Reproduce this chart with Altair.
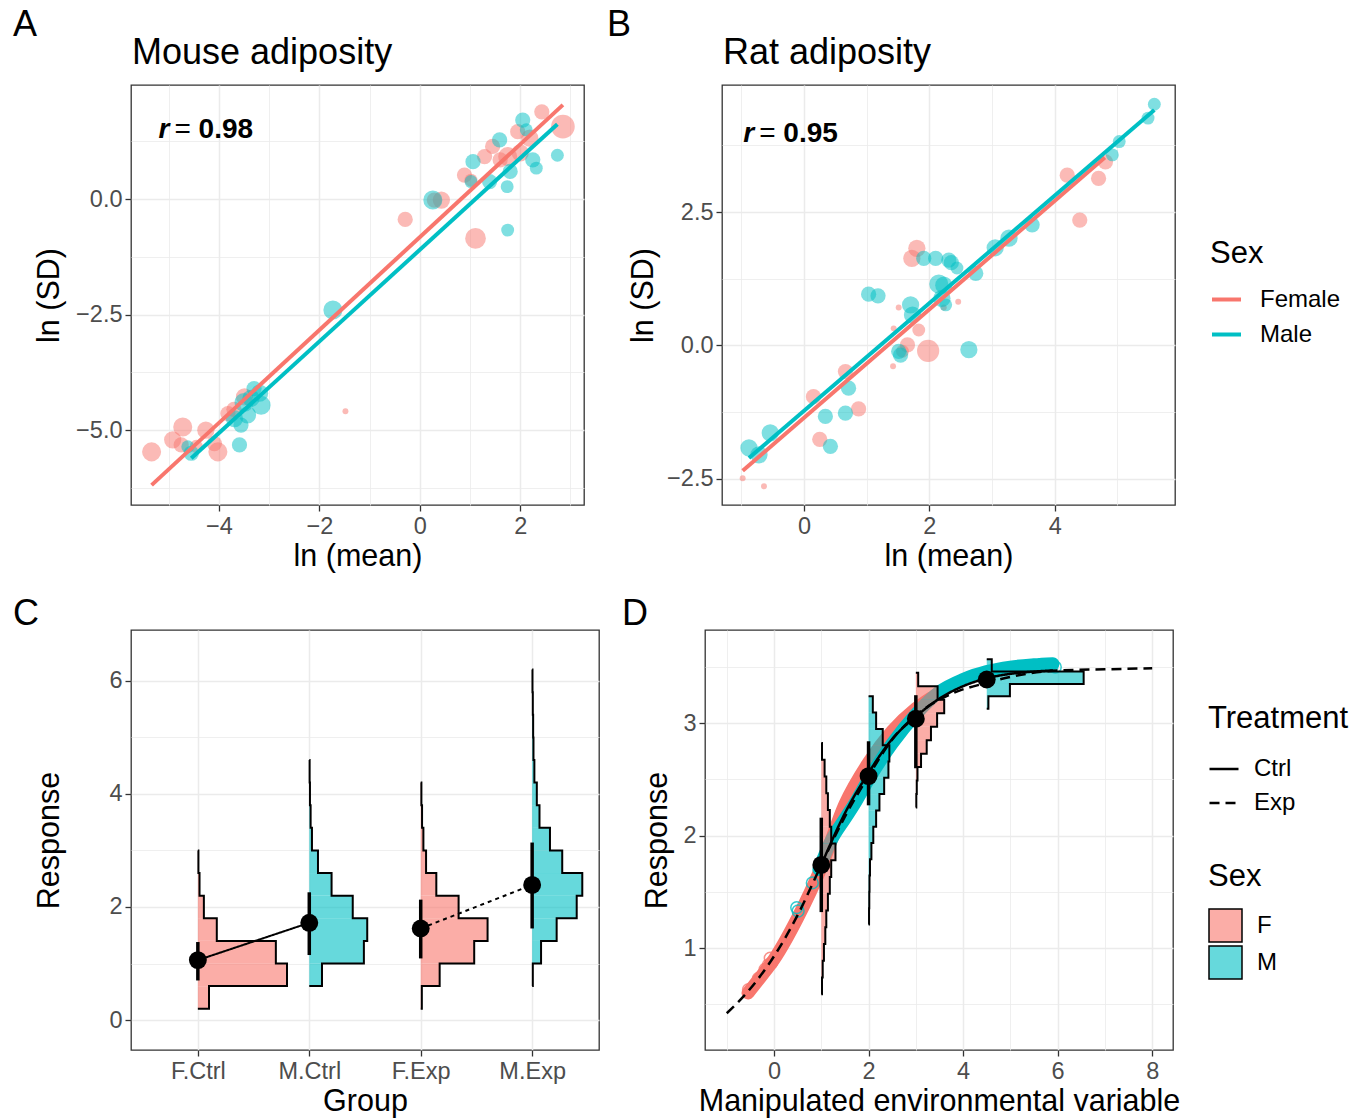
import json
import altair as alt
import pandas as pd

FONT = "Liberation Sans"
RED = "#F8766D"
CYAN = "#00BFC4"
RED_A = "rgba(248,118,109,0.6)"
CYAN_A = "rgba(0,191,196,0.6)"
GRID = "#EBEBEB"

# ---------------- Panel A : Mouse adiposity ----------------
a_f_x = [2.43, 2.85, 1.95, 2.19, 1.45, 1.75, 1.29, 0.89, 1.02, 0.43, 0.29, -0.29, 1.11, -1.48,
         -5.34, -4.72, -4.92, -4.75, -4.26, -4.02, -4.09, -3.82, -3.49, -3.70, -4.45, 2.00, 1.60]
a_f_y = [1.89, 1.57, 1.46, 1.32, 1.14, 0.92, 0.92, 0.52, 0.41, -0.02, -0.02, -0.44, -0.85, -4.59,
         -5.47, -4.93, -5.21, -5.32, -5.00, -5.47, -5.29, -4.64, -4.28, -4.55, -5.35, 1.00, 0.85]
a_f_w = [4, 9, 4, 5, 4, 6, 4, 4, 3, 5, 4, 4, 7, 1, 6, 6, 5, 4, 5, 6, 4, 4, 5, 4, 3, 5, 4]
a_m_x = [2.05, 2.12, 1.59, 1.06, 1.02, 1.39, 2.25, 2.32, 2.74, 1.74, 0.26, 1.75, -1.73,
         -3.19, -3.16, -3.43, -3.56, -3.69, -3.59, -4.55, -4.62, -3.36, -3.50, -3.30, 1.80]
a_m_y = [1.71, 1.50, 1.28, 0.81, 0.38, 0.38, 0.85, 0.67, 0.95, 0.27, -0.02, -0.67, -2.40,
         -4.20, -4.46, -4.67, -4.89, -4.75, -5.32, -5.50, -5.36, -4.31, -4.40, -4.10, 0.60]
a_m_w = [4, 3, 4, 4, 3, 4, 4, 3, 3, 3, 6, 3, 6, 5, 6, 5, 4, 5, 4, 4, 3, 5, 6, 4, 4]
a_fit_sex = ["Female", "Female", "Male", "Male"]
a_fit_x = [-5.34, 2.85, -4.55, 2.74]
a_fit_y = [-6.19, 2.04, -5.61, 1.62]
a_r_x = [-5.20]
a_r_y = [1.32]
a_r_val = ["0.98"]

# ---------------- Panel B : Rat adiposity ----------------
b_f_x = [4.20, 4.70, 4.81, 4.40, 1.80, 1.72, 1.51, 1.43, 1.83, 1.65, 1.98, 1.57, 1.42, 2.46, 2.23,
         0.66, 0.87, 0.15, 0.25, -0.98, -0.64]
b_f_y = [3.19, 3.13, 3.44, 2.35, 1.82, 1.63, 0.71, 0.32, 0.29, 0.01, -0.10, -0.11, -0.39, 0.82, 0.71,
         -0.49, -1.19, -0.96, -1.76, -2.49, -2.64]
b_f_w = [4, 4, 4, 4, 5, 5, 1, 1, 3, 4, 8, 3, 1, 1, 1, 4, 4, 4, 4, 1, 1]
b_m_x = [5.59, 5.49, 5.03, 4.92, 3.64, 3.27, 3.05, 2.74, 1.91, 2.10, 2.31, 2.44, 2.23, 2.20, 2.26,
         1.03, 1.18, 1.70, 1.73, 1.51, 1.54, 2.63, 0.71, 0.34, 0.66, 0.42, -0.54, -0.88, -0.72, 2.35, 2.15]
b_m_y = [4.52, 4.26, 3.82, 3.57, 2.26, 2.01, 1.83, 1.35, 1.63, 1.63, 1.60, 1.45, 1.13, 0.88, 0.76,
         0.96, 0.93, 0.76, 0.57, -0.11, -0.18, -0.08, -0.80, -1.33, -1.27, -1.89, -1.64, -1.92, -2.05, 1.55, 1.15]
b_m_w = [3, 3, 3, 3, 4, 5, 5, 4, 4, 4, 4, 3, 5, 5, 3, 4, 4, 5, 5, 4, 4, 5, 4, 4, 4, 4, 5, 5, 5, 4, 6]
b_fit_sex = ["Female", "Female", "Male", "Male"]
b_fit_x = [-0.98, 4.80, -0.88, 5.59]
b_fit_y = [-2.35, 3.52, -2.11, 4.41]
b_r_x = [-0.97]
b_r_y = [3.81]
b_r_val = ["0.95"]

# ---------------- Panel C : Group histograms ----------------
c_groups = ["F.Ctrl", "M.Ctrl", "F.Exp", "M.Exp"]
c_pos = [1, 2, 3, 4]
c_sex = ["F", "M", "F", "M"]
c_treat = ["Ctrl", "Ctrl", "Exp", "Exp"]
c_mean = [1.06, 1.72, 1.62, 2.39]
c_lo = [0.70, 1.15, 1.09, 1.62]
c_hi = [1.38, 2.26, 2.13, 3.14]
c_bin_start = [0.2, 0.6, 0.2, 0.6]
c_bin_width = [0.4, 0.4, 0.4, 0.4]
c_hist = [
    [0.10, 0.80, 0.70, 0.17, 0.054, 0.015, 0.005],
    [0.114, 0.49, 0.52, 0.39, 0.20, 0.078, 0.024, 0.012, 0.006, 0.003],
    [0.01, 0.17, 0.48, 0.60, 0.34, 0.14, 0.048, 0.024, 0.012, 0.006],
    [0.006, 0.08, 0.22, 0.40, 0.45, 0.27, 0.16, 0.066, 0.042, 0.02, 0.012, 0.009, 0.006, 0.003],
]

# ---------------- Panel D : reaction norms ----------------
d_pos = [1.0, 2.0, 3.0, 4.5]
d_sex = ["F", "M", "F", "M"]
d_mean = [1.74, 2.53, 3.04, 3.39]
d_lo = [1.32, 2.27, 2.60, 3.33]
d_hi = [2.16, 2.84, 3.25, 3.46]
d_bin_start = [0.59, 1.21, 2.25, 3.13]
d_bin_width = [0.149, 0.145, 0.12, 0.11]
d_hist = [
    [0.015, 0.03, 0.056, 0.085, 0.106, 0.14, 0.18, 0.21, 0.30, 0.21, 0.18, 0.14, 0.106, 0.07, 0.015],
    [0.01, 0.015, 0.02, 0.03, 0.06, 0.10, 0.16, 0.23, 0.33, 0.42, 0.44, 0.30, 0.16, 0.09],
    [0.01, 0.02, 0.035, 0.11, 0.23, 0.32, 0.45, 0.60, 0.46, 0.05],
    [0.035, 0.49, 2.05, 0.106],
]
d_exp_x = [-1.0, -0.54, 0.02, 0.52, 1.0, 1.5, 2.0, 2.49, 3.0, 3.8, 4.5, 5.2, 6.0, 7.0, 8.0]
d_exp_y = [0.42, 0.62, 0.94, 1.31, 1.74, 2.17, 2.53, 2.85, 3.07, 3.27, 3.36, 3.43, 3.47, 3.48, 3.49]
d_ctrl_x = [1.0, 1.5, 2.0, 2.5, 3.0, 3.5, 4.0, 4.5, 5.0, 5.5, 5.9]
d_ctrl_y = [1.74, 2.20, 2.56, 2.86, 3.06, 3.22, 3.33, 3.40, 3.44, 3.46, 3.47]
d_band_f_x = [-0.55, -0.25, 0.0, 0.5, 1.0, 1.5, 2.0, 2.5, 3.0, 3.3]
d_band_f_y = [0.60, 0.76, 0.90, 1.27, 1.72, 2.28, 2.65, 2.93, 3.13, 3.22]
d_band_m_x = [0.95, 1.2, 1.5, 1.7, 2.0, 2.5, 3.0, 3.5, 4.0, 4.5, 5.0, 5.5, 5.9]
d_band_m_y = [1.70, 1.95, 2.15, 2.28, 2.50, 2.82, 3.08, 3.28, 3.39, 3.46, 3.50, 3.52, 3.53]
d_open_sex = ["F", "F", "F", "F", "F", "F", "M", "M", "M", "M", "M", "M", "M"]
d_open_x = [-0.54, -0.33, -0.19, -0.05, -0.08, -0.12, 0.51, 0.48, 0.81, 5.63, 5.75, 5.88, 5.95]
d_open_y = [0.63, 0.73, 0.81, 0.87, 0.91, 0.85, 1.33, 1.36, 1.58, 3.52, 3.52, 3.51, 3.50]
SEX_NAME = {"F": "Female", "M": "Male"}


# ---------------- helpers ----------------
def axis(majors, minors=(), fmt=None, label_expr=None, title_x=None, **kw):
    vals = sorted(list(majors) + list(minors))
    test = "indexof(%s, datum.value) >= 0" % json.dumps(list(majors))
    d = dict(
        values=vals,
        labelExpr=label_expr or ("%s ? datum.label : ''" % test),
        tickOpacity={"condition": {"test": test, "value": 1}, "value": 0},
        gridWidth={"condition": {"test": test, "value": 1.5}, "value": 0.8},
        labelOverlap=False,
        labelFlush=False,
    )
    if fmt:
        d["format"] = fmt
    if title_x is not None:
        d["titleX"] = title_x
        d["titleBaseline"] = "alphabetic"
    d.update(kw)
    return alt.Axis(**d)


def sc(lo, hi):
    return alt.Scale(domain=[lo, hi], nice=False, zero=False)


def label_text(txt, dx, dy, size=36):
    return alt.Chart(pd.DataFrame({"t": [txt]})).mark_text(
        fontSize=size, align="left", baseline="alphabetic", color="black", font=FONT
    ).encode(x=alt.value(dx), y=alt.value(dy), text="t:N")


def hist_frames(bases, sexes, starts, bws, counts):
    rects, outline = [], []
    for g, (b, s, st, bw, cs) in enumerate(zip(bases, sexes, starts, bws, counts)):
        for i, c in enumerate(cs):
            rects.append(dict(g=g, Sx=s, x0=b, x1=b + c, y0=st + i * bw, y1=st + (i + 1) * bw))
        pts = [(b, st)]
        for i, c in enumerate(cs):
            pts += [(b + c, st + i * bw), (b + c, st + (i + 1) * bw)]
        pts.append((b, st + len(cs) * bw))
        for k, (x, y) in enumerate(pts):
            outline.append(dict(g=g, o=k, x=x, y=y))
    return pd.DataFrame(rects), pd.DataFrame(outline)


def scatter_panel(fx, fy, fw, mx, my, mw, fsex, fitx, fity, rx, ry, rval,
                  xdom, ydom, xmaj, xmin, ymaj, ymin, title, let, let_dx, title_x, legend, width, height):
    pts = pd.DataFrame({
        "x": fx + mx, "y": fy + my, "w": fw + mw,
        "sex": ["Female"] * len(fx) + ["Male"] * len(mx),
    })
    fit = pd.DataFrame({"x": fitx, "y": fity, "sex": fsex})
    xs, ys = sc(*xdom), sc(*ydom)
    xax = axis(xmaj, xmin, fmt="~g", title="ln (mean)")
    yax = axis(ymaj, ymin, fmt=".1f", title="ln (SD)", title_x=title_x)
    col = alt.Color("sex:N", scale=alt.Scale(domain=["Female", "Male"], range=[RED, CYAN]), legend=legend)
    p = alt.Chart(pts).mark_circle(opacity=0.5).encode(
        x=alt.X("x:Q", scale=xs, axis=xax),
        y=alt.Y("y:Q", scale=ys, axis=yax),
        color=col,
        size=alt.Size("w:Q", scale=alt.Scale(domain=[1, 9], range=[35, 560], zero=False), legend=None),
    )
    l = alt.Chart(fit).mark_line(strokeWidth=4).encode(x="x:Q", y="y:Q", color=col, detail="sex:N")
    rdf = pd.DataFrame({"x": rx, "y": ry, "v": rval})
    r1 = alt.Chart(rdf).mark_text(fontSize=28, fontStyle="italic", fontWeight="bold", align="left",
                                  baseline="alphabetic", font=FONT).encode(x="x:Q", y="y:Q", text=alt.value("r"))
    r2 = alt.Chart(rdf).mark_text(fontSize=28, align="left", baseline="alphabetic", dx=16,
                                  font=FONT).encode(x="x:Q", y="y:Q", text=alt.value("="))
    r3 = alt.Chart(rdf).mark_text(fontSize=28, fontWeight="bold", align="left", baseline="alphabetic", dx=40,
                                  font=FONT).encode(x="x:Q", y="y:Q", text="v:N")
    return alt.layer(p, l, r1, r2, r3, label_text(title, 1, -21), label_text(let, let_dx, -49)).properties(
        width=width, height=height)


sex_legend_b = alt.Legend(title="Sex", orient="none", legendX=488, legendY=154, symbolType="stroke",
                          symbolSize=841, symbolStrokeWidth=4, symbolOpacity=1, rowPadding=6,
                          titlePadding=13, labelOffset=17)

A = scatter_panel(a_f_x, a_f_y, a_f_w, a_m_x, a_m_y, a_m_w, a_fit_sex, a_fit_x, a_fit_y,
                  a_r_x, a_r_y, a_r_val, (-5.75, 3.27), (-6.62, 2.47), [-4, -2, 0, 2], [-5, -3, -1, 1, 3],
                  [-5.0, -2.5, 0.0], [-6.25, -3.75, -1.25, 1.25], "Mouse adiposity", "A", -118, -73, None,
                  453, 420)
B = scatter_panel(b_f_x, b_f_y, b_f_w, b_m_x, b_m_y, b_m_w, b_fit_sex, b_fit_x, b_fit_y,
                  b_r_x, b_r_y, b_r_val, (-1.31, 5.92), (-2.99, 4.88), [0, 2, 4], [-1, 1, 3, 5],
                  [-2.5, 0.0, 2.5], [-1.25, 1.25, 3.75], "Rat adiposity", "B", -115, -70, sex_legend_b,
                  453, 420)

# ---------------- Panel C ----------------
c_rects, c_out = hist_frames(c_pos, c_sex, c_bin_start, c_bin_width, c_hist)
c_stats = pd.DataFrame({"x": c_pos, "m": c_mean, "lo": c_lo, "hi": c_hi, "treat": c_treat, "g": c_groups})
cxs, cys = sc(0.4, 4.6), sc(-0.53, 6.90)
c_lab = "[''," + ",".join("'%s'" % g for g in c_groups) + "][datum.value]"
cxax = axis(c_pos, (), label_expr=c_lab, title="Group")
cyax = axis([0, 2, 4, 6], [1, 3, 5], fmt="~g", title="Response", title_x=-73)
c_fill = alt.Color("Sx:N", scale=alt.Scale(domain=["F", "M"], range=[RED_A, CYAN_A]), legend=None)
c1 = alt.Chart(c_rects).mark_rect().encode(
    x=alt.X("x0:Q", scale=cxs, axis=cxax), x2="x1:Q",
    y=alt.Y("y0:Q", scale=cys, axis=cyax), y2="y1:Q", color=c_fill)
c2 = alt.Chart(c_out).mark_line(color="black", strokeWidth=2).encode(
    x="x:Q", y="y:Q", detail="g:N", order="o:Q")
c3 = alt.Chart(c_stats).mark_line(color="black", strokeWidth=2).encode(
    x="x:Q", y="m:Q", detail="treat:N",
    strokeDash=alt.StrokeDash("treat:N", scale=alt.Scale(domain=["Ctrl", "Exp"], range=[[1, 0], [4, 4]]),
                              legend=None))
c4 = alt.Chart(c_stats).mark_rule(color="black", strokeWidth=3.5).encode(x="x:Q", y="lo:Q", y2="hi:Q")
c5 = alt.Chart(c_stats).mark_circle(color="black", size=320, opacity=1).encode(x="x:Q", y="m:Q")
C = alt.layer(c1, c2, c3, c4, c5, label_text("C", -118, -5)).properties(width=468, height=420)

# ---------------- Panel D ----------------
d_rects, d_out = hist_frames(d_pos, d_sex, d_bin_start, d_bin_width, d_hist)
d_stats = pd.DataFrame({"x": d_pos, "m": d_mean, "lo": d_lo, "hi": d_hi})
d_lines = pd.DataFrame({
    "x": d_ctrl_x + d_exp_x, "y": d_ctrl_y + d_exp_y,
    "treat": ["Ctrl"] * len(d_ctrl_x) + ["Exp"] * len(d_exp_x),
    "o": list(range(len(d_ctrl_x))) + list(range(len(d_exp_x))),
})
d_bands = pd.DataFrame({
    "x": d_band_f_x + d_band_m_x, "y": d_band_f_y + d_band_m_y,
    "sexname": ["Female"] * len(d_band_f_x) + ["Male"] * len(d_band_m_x),
    "o": list(range(len(d_band_f_x))) + list(range(len(d_band_m_x))),
})
d_open = pd.DataFrame({"x": d_open_x, "y": d_open_y, "sexname": [SEX_NAME[s] for s in d_open_sex]})
dxs, dys = sc(-1.46, 8.44), sc(0.093, 3.83)
dxax = axis([0, 2, 4, 6, 8], [-1, 1, 3, 5, 7], fmt="~g", title="Manipulated environmental variable")
dyax = axis([1, 2, 3], [0.5, 1.5, 2.5, 3.5], fmt="~g", title="Response", title_x=-39)
d_stroke = alt.Stroke("sexname:N", scale=alt.Scale(domain=["Female", "Male"], range=[RED, CYAN]), legend=None)
d_fill = alt.Color("Sx:N", scale=alt.Scale(domain=["F", "M"], range=[RED_A, CYAN_A]),
                   legend=alt.Legend(title="Sex", orient="none", legendX=503, legendY=232, symbolType="square",
                                     symbolSize=1089, symbolStrokeColor="black", symbolStrokeWidth=1.5,
                                     symbolOpacity=1, rowPadding=-4, titlePadding=15, labelOffset=14))
d0 = alt.Chart(d_bands).mark_line(strokeWidth=13, strokeCap="round", interpolate="monotone").encode(
    x=alt.X("x:Q", scale=dxs, axis=dxax), y=alt.Y("y:Q", scale=dys, axis=dyax),
    stroke=d_stroke, detail="sexname:N", order="o:Q")
d1 = alt.Chart(d_open).mark_point(filled=False, size=140, strokeWidth=1.5, opacity=0.8).encode(
    x="x:Q", y="y:Q", stroke=d_stroke)
d2 = alt.Chart(d_rects).mark_rect().encode(x="x0:Q", x2="x1:Q", y="y0:Q", y2="y1:Q", color=d_fill)
d3 = alt.Chart(d_out).mark_line(color="black", strokeWidth=2).encode(
    x="x:Q", y="y:Q", detail="g:N", order="o:Q")
d4 = alt.Chart(d_lines).mark_line(color="black", strokeWidth=2.5, interpolate="monotone").encode(
    x="x:Q", y="y:Q", detail="treat:N", order="o:Q",
    strokeDash=alt.StrokeDash("treat:N", scale=alt.Scale(domain=["Ctrl", "Exp"], range=[[1, 0], [10, 6]]),
                              legend=alt.Legend(title="Treatment", orient="none", legendX=503, legendY=74,
                                                symbolType="stroke", symbolSize=841, symbolStrokeWidth=2.5,
                                                symbolStrokeColor="black", rowPadding=6, titlePadding=18,
                                                labelOffset=14)))
d5 = alt.Chart(d_stats).mark_rule(color="black", strokeWidth=3.5).encode(x="x:Q", y="lo:Q", y2="hi:Q")
d6 = alt.Chart(d_stats).mark_circle(color="black", size=320, opacity=1).encode(x="x:Q", y="m:Q")
D = alt.layer(d0, d1, d2, d3, d4, d5, d6, label_text("D", -83, -5)).properties(width=468, height=420)

res = dict(color="independent", fill="independent", stroke="independent", strokeDash="independent",
           size="independent", x="independent", y="independent")
row1 = alt.hconcat(A, B, spacing=21).resolve_scale(**res)
row2 = alt.hconcat(C, D, spacing=21).resolve_scale(**res)
chart = alt.vconcat(row1, row2, spacing=22).resolve_scale(**res).properties(
    padding={"left": 4, "top": -2, "right": 5, "bottom": 0}
).configure(font=FONT).configure_view(
    stroke="#333333", strokeWidth=1.3
).configure_axis(
    labelFont=FONT, labelFontSize=23.5, labelColor="#4D4D4D", titleFont=FONT, titleFontSize=30.5,
    titleFontWeight="normal", titleColor="black", tickColor="#333333", tickWidth=1.3, tickSize=6,
    domain=False, gridColor=GRID, labelPadding=3, titlePadding=4
).configure_legend(
    titleFont=FONT, labelFont=FONT, titleFontSize=31, titleFontWeight="normal", labelFontSize=24,
    labelColor="black", titleColor="black"
)

chart.save("out.html", embed_options={"renderer": "svg", "actions": False})
